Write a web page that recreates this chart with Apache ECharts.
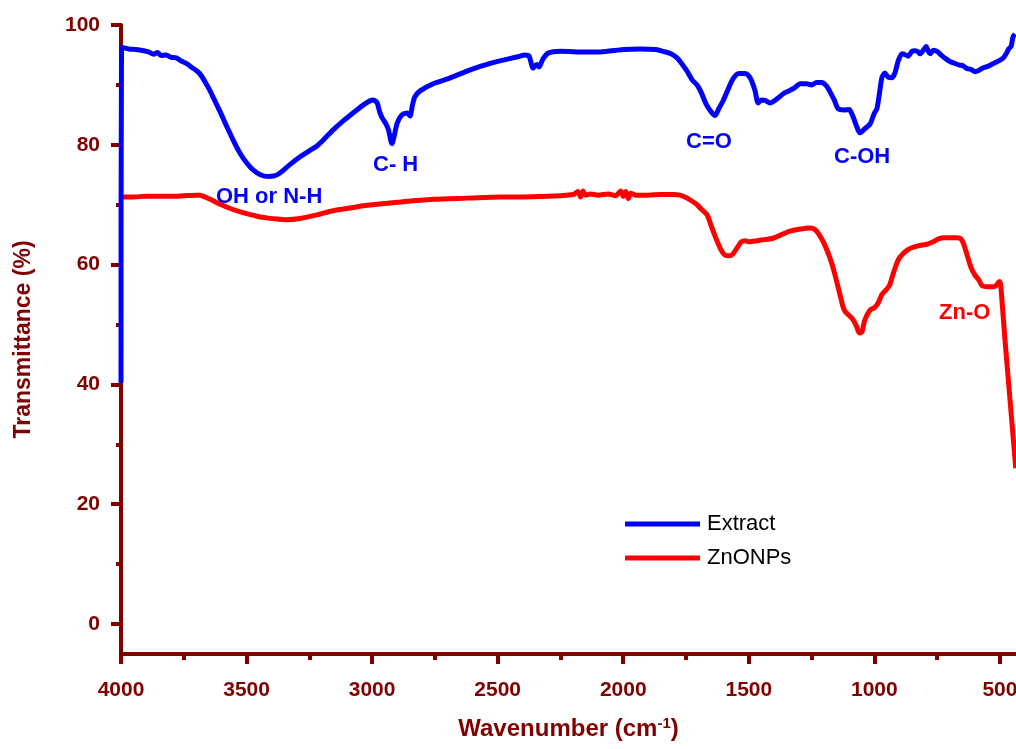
<!DOCTYPE html>
<html>
<head>
<meta charset="utf-8">
<script src="https://cdn.jsdelivr.net/npm/echarts@6/dist/echarts.min.js"></script>
<style>
  html, body { margin: 0; padding: 0; background: #fff; }
  #chart { width: 1016px; height: 749px; }
</style>
</head>
<body>
<div id="chart"></div>
<script>
// FTIR spectra: plant extract vs. zinc oxide nanoparticles
const extractWavenumber = [4000,3998,3970,3940,3910,3890,3870,3855,3840,3820,3800,3780,3760,3740,3720,3700,3685,3665,3645,3634,3605,3578,3550,3526,3500,3474,3445,3415,3390,3367,3330,3287,3250,3220,3190,3155,3115,3076,3040,3010,2995,2980,2970,2960,2945,2935,2921,2912,2900,2881,2860,2849,2840,2830,2809,2757,2700,2622,2560,2491,2420,2391,2375,2359,2345,2335,2320,2299,2250,2150,2092,2000,1933,1870,1841,1810,1786,1766,1746,1725,1706,1690,1670,1650,1634,1620,1602,1580,1563,1540,1515,1500,1487,1475,1463,1450,1435,1415,1390,1360,1340,1315,1296,1270,1250,1230,1210,1190,1176,1160,1144,1120,1100,1090,1077,1065,1057,1040,1017,1000,990,980,970,958,945,930,918,905,890,875,866,850,838,825,818,805,794,785,778,765,750,735,720,699,680,660,647,630,615,599,585,570,555,539,520,505,487,475,465,455,448,440];
const extractT = [40.3,96.3,96.0,95.9,95.7,95.5,95.1,95.4,94.9,95.0,94.6,94.5,94.0,93.6,93.0,92.4,91.8,90.5,89.0,88.0,85.5,83.0,80.5,78.6,77.0,75.8,75.0,74.7,74.8,75.3,76.6,78.0,79.0,79.8,81.0,82.5,84.0,85.3,86.5,87.3,87.5,87.0,85.5,84.5,83.5,82.5,80.2,81.5,83.6,85.0,85.3,84.8,86.5,88.0,89.0,90.2,91.0,92.3,93.2,94.0,94.7,95.0,94.8,92.8,93.4,93.0,94.3,95.3,95.6,95.5,95.5,95.9,96.0,95.9,95.6,95.2,94.5,93.5,92.3,90.8,90.0,88.8,86.8,85.5,84.9,86.0,87.4,89.5,91.0,91.9,91.9,91.5,90.5,89.0,87.0,87.5,87.4,87.0,87.6,88.6,89.0,89.6,90.2,90.2,90.0,90.4,90.4,89.8,88.8,87.5,86.0,85.8,85.9,85.2,83.8,82.5,82.0,82.6,83.5,85.3,86.0,88.5,91.2,92.0,91.3,91.2,92.0,94.0,95.2,95.0,94.8,95.6,95.7,95.5,95.2,95.8,96.4,95.6,95.2,95.8,95.6,95.0,94.5,93.9,93.6,93.3,93.2,92.7,92.6,92.2,92.4,92.8,93.0,93.3,93.7,94.0,94.5,95.2,96.0,96.5,98.0,98.5];

const znoWavenumber = [4000,3950,3900,3850,3800,3750,3700,3685,3660,3630,3600,3554,3500,3450,3419,3380,3339,3287,3220,3155,3080,3020,2900,2757,2620,2491,2400,2300,2250,2200,2180,2170,2160,2150,2130,2100,2060,2030,2010,2000,1990,1980,1970,1950,1900,1850,1800,1774,1750,1730,1706,1690,1666,1650,1627,1610,1595,1575,1563,1545,1530,1515,1500,1483,1450,1403,1370,1336,1300,1256,1235,1220,1200,1176,1160,1140,1125,1117,1100,1085,1070,1060,1049,1040,1029,1015,1000,985,970,955,940,925,905,886,866,846,820,790,766,745,720,690,671,655,645,630,615,600,585,571,550,527,515,507,500,496,480,460,440,437];
const znoT = [71.3,71.3,71.4,71.4,71.4,71.5,71.6,71.6,71.2,70.6,70.0,69.2,68.5,68.0,67.8,67.6,67.5,67.7,68.3,69.0,69.5,69.9,70.4,70.9,71.1,71.3,71.3,71.4,71.5,71.7,72.2,71.3,72.3,71.6,71.8,71.6,71.8,71.5,72.3,71.4,72.2,71.0,71.9,71.6,71.6,71.7,71.7,71.6,71.2,70.7,70.0,69.3,68.3,66.5,64.0,62.4,61.6,61.5,61.8,62.9,63.8,64.0,63.8,63.9,64.1,64.4,65.0,65.6,65.9,66.1,65.8,65.0,63.5,61.0,58.8,55.5,53.0,52.2,51.5,50.8,49.6,48.6,48.8,50.5,51.6,52.5,52.8,53.6,55.0,55.7,56.5,58.5,60.8,61.8,62.5,62.9,63.2,63.4,63.8,64.3,64.5,64.5,64.5,64.3,63.5,61.5,59.5,58.3,57.5,56.5,56.3,56.3,56.5,57.0,57.2,56.2,47.5,37.5,27.5,26.0];

const xMajorTicks = [4000, 3500, 3000, 2500, 2000, 1500, 1000, 500];
const xMinorTicks = [3750, 3250, 2750, 2250, 1750, 1250, 750];
const yMajorTicks = [0, 20, 40, 60, 80, 100];
const yMinorTicks = [10, 30, 50, 70, 90];

const seriesNames = ['Extract', 'ZnONPs'];
const bandLabels = ['OH or N-H', 'C- H', 'C=O', 'C-OH', 'Zn-O'];

const AXIS = '#800000';
const FONT = '"Liberation Sans", Arial, sans-serif';

function pairs(xs, ys) { return xs.map((x, i) => [x, ys[i]]); }

const xRange = { min: 436, max: 4000, inverse: true };
const yRange = { min: -5, max: 100 };

const chart = echarts.init(document.getElementById('chart'), null, { renderer: 'canvas' });

const bandText = (text, x, y, color) => ({
  type: 'text', left: x, top: y, z: 100,
  style: { text, fill: color, font: `bold 22px ${FONT}` }
});

chart.setOption({
  animation: false,
  backgroundColor: '#fff',
  grid: { left: 121, right: 0, top: 25, bottom: 95, containLabel: false, outerBoundsMode: 'none' },
  legend: {
    orient: 'vertical', left: 620, top: 508,
    itemWidth: 75, itemHeight: 5, itemGap: 12,
    icon: 'rect',
    textStyle: { color: '#000', fontSize: 22, fontFamily: FONT, padding: [0, 0, 0, 2] },
    data: seriesNames
  },
  xAxis: [
    Object.assign({
      type: 'value', position: 'bottom',
      name: '{t|Wavenumber (cm}{s|-1}{t|)}',
      nameLocation: 'middle', nameGap: 62,
      nameTextStyle: {
        rich: {
          t: { fontSize: 24, fontWeight: 'bold', color: AXIS, fontFamily: FONT },
          s: { fontSize: 15, fontWeight: 'bold', color: AXIS, fontFamily: FONT, verticalAlign: 'top', padding: [0, 0, 12, 0] }
        }
      },
      axisLine: { show: true, onZero: false, lineStyle: { color: AXIS, width: 4 } },
      axisTick: { show: true, inside: false, length: 10, customValues: xMajorTicks, lineStyle: { color: AXIS, width: 4 } },
      axisLabel: { customValues: xMajorTicks, formatter: v => String(v), margin: 26, color: AXIS, fontSize: 21, fontWeight: 'bold', fontFamily: FONT, showMinLabel: true, showMaxLabel: true },
      splitLine: { show: false }
    }, xRange),
    Object.assign({
      type: 'value', position: 'bottom',
      axisLine: { show: false, onZero: false },
      axisTick: { show: true, length: 6, customValues: xMinorTicks, lineStyle: { color: AXIS, width: 4 } },
      axisLabel: { show: false },
      splitLine: { show: false }
    }, xRange)
  ],
  yAxis: [
    Object.assign({
      type: 'value', position: 'left',
      name: 'Transmittance (%)',
      nameLocation: 'middle', nameGap: 86,
      nameTextStyle: { fontSize: 23, fontWeight: 'bold', color: AXIS, fontFamily: FONT },
      axisLine: { show: true, onZero: false, lineStyle: { color: AXIS, width: 4 } },
      axisTick: { show: true, length: 10, customValues: yMajorTicks, lineStyle: { color: AXIS, width: 4 } },
      axisLabel: { customValues: yMajorTicks, formatter: v => String(v), margin: 21, color: AXIS, fontSize: 21, fontWeight: 'bold', fontFamily: FONT },
      splitLine: { show: false }
    }, yRange),
    Object.assign({
      type: 'value', position: 'left',
      axisLine: { show: false, onZero: false },
      axisTick: { show: true, length: 5, customValues: yMinorTicks, lineStyle: { color: AXIS, width: 4 } },
      axisLabel: { show: false },
      splitLine: { show: false }
    }, yRange)
  ],
  series: [
    {
      name: seriesNames[0], type: 'line', xAxisIndex: 0, yAxisIndex: 0,
      data: pairs(extractWavenumber, extractT),
      showSymbol: false, symbol: 'none', smooth: 0.25, z: 5,
      lineStyle: { color: '#0000ff', width: 5 }, itemStyle: { color: '#0000ff' }
    },
    {
      name: seriesNames[1], type: 'line', xAxisIndex: 0, yAxisIndex: 0,
      data: pairs(znoWavenumber, znoT),
      showSymbol: false, symbol: 'none', smooth: 0.25, z: 4,
      lineStyle: { color: '#ff0000', width: 5 }, itemStyle: { color: '#ff0000' }
    }
  ],
  graphic: [
    bandText(bandLabels[0], 216, 186, '#0000ff'),
    bandText(bandLabels[1], 373, 154, '#0000ff'),
    bandText(bandLabels[2], 686, 131, '#0000ff'),
    bandText(bandLabels[3], 834, 146, '#0000ff'),
    bandText(bandLabels[4], 939, 302, '#ff0000')
  ]
});
</script>
</body>
</html>
